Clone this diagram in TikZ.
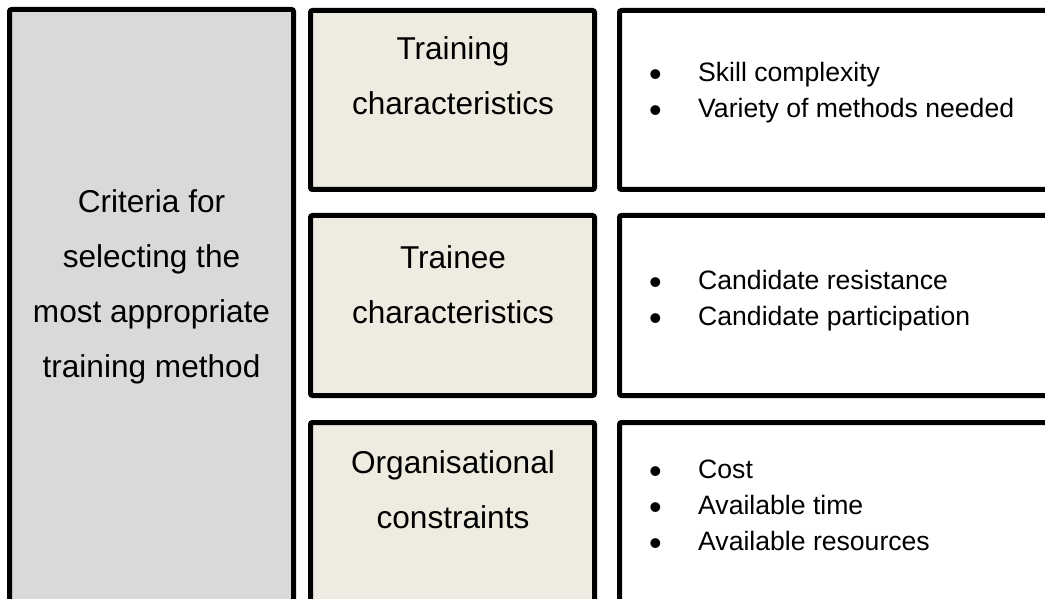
\documentclass[tikz,border=0pt]{standalone}
\usepackage{fontspec}
\setmainfont{Liberation Sans}
\usetikzlibrary{positioning}
\definecolor{cgrey}{HTML}{D9D9D9}
\definecolor{cbeige}{HTML}{EEECE1}
\tikzset{
  frame/.style={draw=black, fill=#1, line width=5pt, rounded corners=2pt, inner sep=0pt, outer sep=0pt, anchor=north west},
  frame/.default=white,
  head/.style={font=\fontsize{31.6}{55}\selectfont, align=center, inner sep=0pt, anchor=base},
  items/.style={font=\fontsize{26.6}{36}\selectfont, align=left, inner sep=0pt, anchor=base west},
}
\newcommand{\bul}{\makebox[49pt][l]{\raisebox{-5pt}{\fontsize{36}{36}\selectfont\textbullet}}}

\begin{document}
\begin{tikzpicture}[x=1pt, y=-1pt]
  \useasboundingbox (0,0) rectangle (1045,599);
  \clip (0,0) rectangle (1045,599);
  % left column
  \node[frame=cgrey, minimum width=284pt, minimum height=700pt] (crit) at (9.5,9.5) {};
  \node[head] (critlab) at (151.5,377) {Criteria for\\selecting the\\most appropriate\\training method};
  % middle and right columns
  \foreach \y/\h [count=\i] in {10.5/179, 215.5/180, 422.5/220} {
    \node[frame=cbeige, minimum width=284pt, minimum height=\h pt] (m\i) at (310.5,\y) {};
    \node[frame, minimum width=480pt, minimum height=\h pt] (r\i) at (619.5,\y) {};
  }
  \node[head] (mlab1) at (453,115) {Training\\characteristics};
  \node[head] (mlab2) at (453,323) {Trainee\\characteristics};
  \node[head] (mlab3) at (453,528) {Organisational\\constraints};
  \node[items] (rlab1) at (649,118) {\bul Skill complexity\\\bul Variety of methods needed};
  \node[items] (rlab2) at (649,325) {\bul Candidate resistance\\\bul Candidate participation};
  \node[items] (rlab3) at (649,550) {\bul Cost\\\bul Available time\\\bul Available resources};
\end{tikzpicture}
\end{document}
